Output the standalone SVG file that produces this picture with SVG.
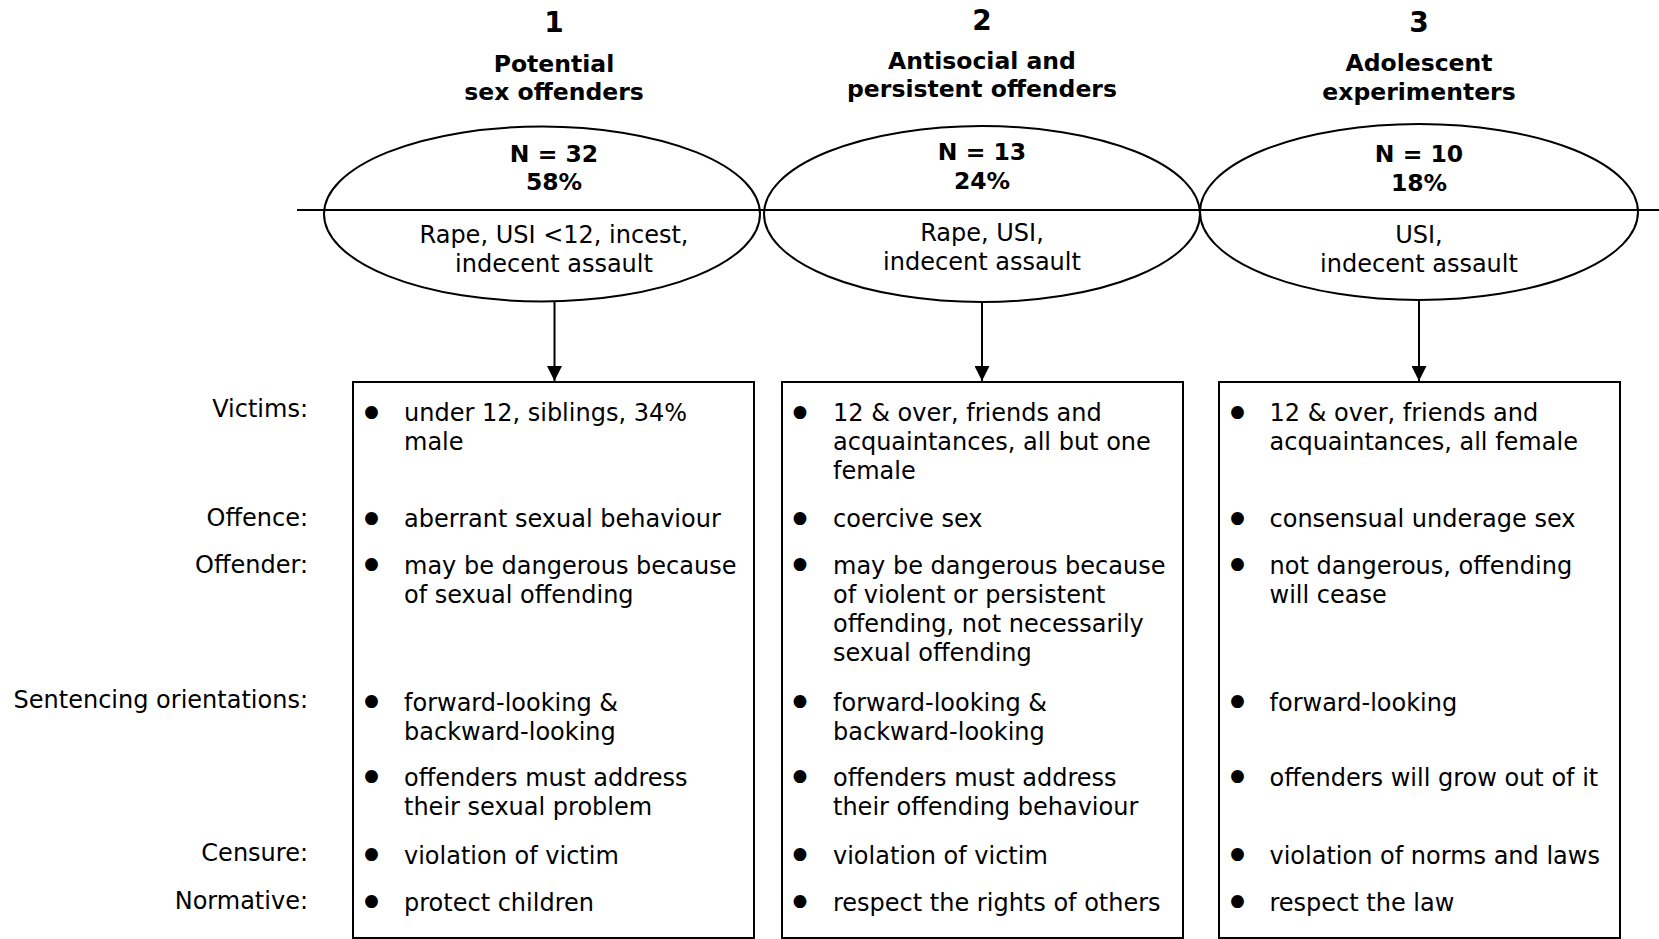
<svg xmlns="http://www.w3.org/2000/svg" width="1659" height="939" viewBox="0 0 1659 939">
<defs>
<style>
text{font-family:"DejaVu Sans","Verdana",sans-serif;fill:#000}
.num{font-size:28px;font-weight:bold;text-anchor:middle}
.ttl{font-size:23.5px;font-weight:bold;text-anchor:middle}
.nb{font-size:23.5px;font-weight:bold;text-anchor:middle}
.ot{font-size:24px;text-anchor:middle}
.lbl{font-size:24px;text-anchor:end}
.it{font-size:24px}
.bu{font-size:44px;text-anchor:middle}
.shape{fill:#fff;stroke:#000;stroke-width:2}
.conn{stroke:#000;stroke-width:2;fill:none}
</style>
<marker id="arr" markerUnits="userSpaceOnUse" markerWidth="15" markerHeight="15" refX="15" refY="7.5" orient="auto" viewBox="0 0 15 15">
<path d="M0,0 L15,7.5 L0,15 z" fill="#000"/>
</marker>
</defs>
<rect width="1659" height="939" fill="#fff"/>

<g id="connectors">
<line class="conn" x1="297" y1="210" x2="1659" y2="210"/>
<line class="conn" x1="554.5" y1="301" x2="554.5" y2="381" marker-end="url(#arr)"/>
<line class="conn" x1="982" y1="302" x2="982" y2="381" marker-end="url(#arr)"/>
<line class="conn" x1="1419" y1="300" x2="1419" y2="381" marker-end="url(#arr)"/>
</g>

<g id="group1">
<text class="num" x="554" y="32">1</text>
<text class="ttl" x="554" y="71.5">Potential</text>
<text class="ttl" x="554" y="99.5">sex offenders</text>
<ellipse cx="542" cy="214" rx="218" ry="87.5" fill="none" stroke="#000" stroke-width="2"/>
<text class="nb" x="554" y="161.5">N = 32</text>
<text class="nb" x="554" y="190">58%</text>
<text class="ot" x="554" y="243">Rape, USI &lt;12, incest,</text>
<text class="ot" x="554" y="272">indecent assault</text>
</g>

<g id="group2">
<text class="num" x="982" y="29.5">2</text>
<text class="ttl" x="982" y="68.5">Antisocial and</text>
<text class="ttl" x="982" y="96.5">persistent offenders</text>
<ellipse cx="982" cy="214" rx="218" ry="88" fill="none" stroke="#000" stroke-width="2"/>
<text class="nb" x="982" y="160">N = 13</text>
<text class="nb" x="982" y="188.5">24%</text>
<text class="ot" x="982" y="241">Rape, USI,</text>
<text class="ot" x="982" y="269.5">indecent assault</text>
</g>

<g id="group3">
<text class="num" x="1419" y="32">3</text>
<text class="ttl" x="1419" y="71">Adolescent</text>
<text class="ttl" x="1419" y="99.5">experimenters</text>
<ellipse cx="1419" cy="212" rx="219" ry="88" fill="none" stroke="#000" stroke-width="2"/>
<text class="nb" x="1419" y="161.5">N = 10</text>
<text class="nb" x="1419" y="190.5">18%</text>
<text class="ot" x="1419" y="243">USI,</text>
<text class="ot" x="1419" y="272">indecent assault</text>
</g>

<g id="labels">
<text class="lbl" x="308" y="417">Victims:</text>
<text class="lbl" x="308" y="526">Offence:</text>
<text class="lbl" x="308" y="573">Offender:</text>
<text class="lbl" x="308" y="708">Sentencing orientations:</text>
<text class="lbl" x="308" y="861">Censure:</text>
<text class="lbl" x="308" y="908.5">Normative:</text>
</g>

<g id="box1">
<rect class="shape" x="353" y="382" width="401" height="556"/>
<text class="bu" x="371.5" y="428.5">•</text>
<text class="it" x="404" y="421">under 12, siblings, 34%</text>
<text class="it" x="404" y="450">male</text>
<text class="bu" x="371.5" y="534.5">•</text>
<text class="it" x="404" y="527">aberrant sexual behaviour</text>
<text class="bu" x="371.5" y="581">•</text>
<text class="it" x="404" y="573.5">may be dangerous because</text>
<text class="it" x="404" y="602.5">of sexual offending</text>
<text class="bu" x="371.5" y="718">•</text>
<text class="it" x="404" y="710.5">forward-looking &amp;</text>
<text class="it" x="404" y="739.5">backward-looking</text>
<text class="bu" x="371.5" y="793">•</text>
<text class="it" x="404" y="785.5">offenders must address</text>
<text class="it" x="404" y="814.5">their sexual problem</text>
<text class="bu" x="371.5" y="871">•</text>
<text class="it" x="404" y="863.5">violation of victim</text>
<text class="bu" x="371.5" y="918">•</text>
<text class="it" x="404" y="910.5">protect children</text>
</g>

<g id="box2">
<rect class="shape" x="782" y="382" width="401" height="556"/>
<text class="bu" x="800" y="428.5">•</text>
<text class="it" x="833" y="421">12 &amp; over, friends and</text>
<text class="it" x="833" y="450">acquaintances, all but one</text>
<text class="it" x="833" y="479">female</text>
<text class="bu" x="800" y="534.5">•</text>
<text class="it" x="833" y="527">coercive sex</text>
<text class="bu" x="800" y="581">•</text>
<text class="it" x="833" y="573.5">may be dangerous because</text>
<text class="it" x="833" y="602.5">of violent or persistent</text>
<text class="it" x="833" y="631.5">offending, not necessarily</text>
<text class="it" x="833" y="660.5">sexual offending</text>
<text class="bu" x="800" y="718">•</text>
<text class="it" x="833" y="710.5">forward-looking &amp;</text>
<text class="it" x="833" y="739.5">backward-looking</text>
<text class="bu" x="800" y="793">•</text>
<text class="it" x="833" y="785.5">offenders must address</text>
<text class="it" x="833" y="814.5">their offending behaviour</text>
<text class="bu" x="800" y="871">•</text>
<text class="it" x="833" y="863.5">violation of victim</text>
<text class="bu" x="800" y="918">•</text>
<text class="it" x="833" y="910.5">respect the rights of others</text>
</g>

<g id="box3">
<rect class="shape" x="1219" y="382" width="401" height="556"/>
<text class="bu" x="1237.5" y="428.5">•</text>
<text class="it" x="1269.5" y="421">12 &amp; over, friends and</text>
<text class="it" x="1269.5" y="450">acquaintances, all female</text>
<text class="bu" x="1237.5" y="534.5">•</text>
<text class="it" x="1269.5" y="527">consensual underage sex</text>
<text class="bu" x="1237.5" y="581">•</text>
<text class="it" x="1269.5" y="573.5">not dangerous, offending</text>
<text class="it" x="1269.5" y="602.5">will cease</text>
<text class="bu" x="1237.5" y="718">•</text>
<text class="it" x="1269.5" y="710.5">forward-looking</text>
<text class="bu" x="1237.5" y="793">•</text>
<text class="it" x="1269.5" y="785.5">offenders will grow out of it</text>
<text class="bu" x="1237.5" y="871">•</text>
<text class="it" x="1269.5" y="863.5">violation of norms and laws</text>
<text class="bu" x="1237.5" y="918">•</text>
<text class="it" x="1269.5" y="910.5">respect the law</text>
</g>
</svg>
